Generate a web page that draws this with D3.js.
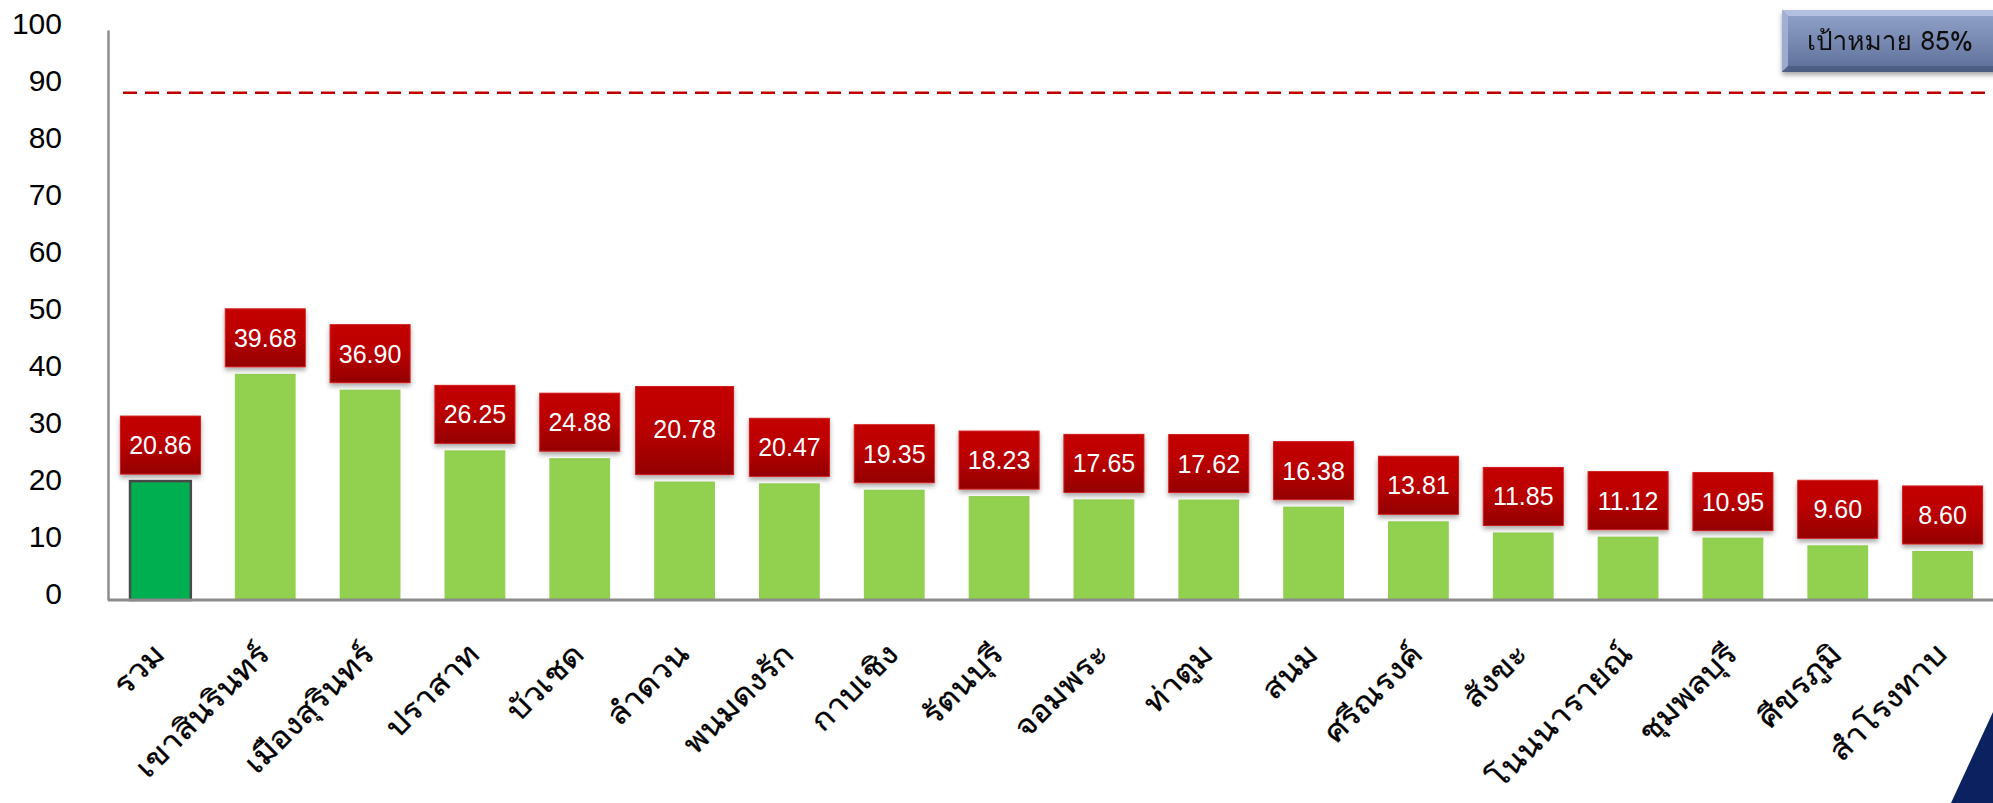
<!DOCTYPE html>
<html>
<head>
<meta charset="utf-8">
<script src="https://cdn.jsdelivr.net/npm/d3@7/dist/d3.min.js"></script>
<style>
  html, body { margin: 0; padding: 0; background: #ffffff; }
  svg { display: block; }
</style>
</head>
<body>
<svg id="chart" width="1993" height="803"></svg>
<script>
// Districts (first one is the overall total)
const districts = [
  "รวม", "เขาสินรินทร์", "เมืองสุรินทร์", "ปราสาท", "บัวเชด", "ลำดวน",
  "พนมดงรัก", "กาบเชิง", "รัตนบุรี", "จอมพระ", "ท่าตูม", "สนม",
  "ศรีณรงค์", "สังขะ", "โนนนารายณ์", "ชุมพลบุรี", "ศีขรภูมิ", "สำโรงทาบ"
];
const values = [
  20.86, 39.68, 36.90, 26.25, 24.88, 20.78,
  20.47, 19.35, 18.23, 17.65, 17.62, 16.38,
  13.81, 11.85, 11.12, 10.95, 9.60, 8.60
];
const yTicks = [0, 10, 20, 30, 40, 50, 60, 70, 80, 90, 100];

// Target line and its badge
const targetLabel = "เป้าหมาย 85%";
const targetLineValue = 89;

const totalIndex = 0;          // "รวม" is drawn in dark green
const enlargedLabelIndex = 5;  // the ลำดวน callout is drawn bigger

const FONT = "Loma, 'Noto Sans Thai Looped', 'Liberation Sans', sans-serif";
const NUM_FONT = "'Liberation Sans', Arial, sans-serif";

const width = 1993, height = 803;
const svg = d3.select("#chart");

const x = d3.scaleBand()
  .domain(districts)
  .range([108, 1995])
  .paddingInner(0.42)
  .paddingOuter(0.21);

const y = d3.scaleLinear().domain([0, 100]).range([600, 30]);

// --- defs: gradients and shadow
const defs = svg.append("defs");

const redGrad = defs.append("linearGradient")
  .attr("id", "callout-red")
  .attr("x1", "0%").attr("y1", "0%").attr("x2", "0%").attr("y2", "100%");
redGrad.append("stop").attr("offset", "0%").attr("stop-color", "#c40000");
redGrad.append("stop").attr("offset", "45%").attr("stop-color", "#bb0000");
redGrad.append("stop").attr("offset", "100%").attr("stop-color", "#930000");

const blueGrad = defs.append("linearGradient")
  .attr("id", "badge-blue")
  .attr("x1", "0%").attr("y1", "0%").attr("x2", "0%").attr("y2", "100%");
blueGrad.append("stop").attr("offset", "0%").attr("stop-color", "#93a4cc");
blueGrad.append("stop").attr("offset", "100%").attr("stop-color", "#5d6e98");

const shadow = defs.append("filter")
  .attr("id", "soft-shadow")
  .attr("x", "-20%").attr("y", "-20%").attr("width", "140%").attr("height", "150%");
shadow.append("feDropShadow")
  .attr("dx", 0).attr("dy", 3)
  .attr("stdDeviation", 2.5)
  .attr("flood-color", "#000").attr("flood-opacity", 0.35);

// --- y axis (left line + labels)
const yAxis = svg.append("g")
  .attr("transform", `translate(${x.range()[0]},0)`)
  .call(d3.axisLeft(y).tickValues(yTicks).tickSize(0).tickSizeOuter(0).tickPadding(46));

yAxis.select(".domain").attr("stroke", "#8c8c8c").attr("stroke-width", 2.5);
yAxis.selectAll("text")
  .attr("dy", "0.12em")
  .style("font-family", NUM_FONT)
  .style("font-size", "30px")
  .attr("fill", "#000");

// --- bars
svg.append("g").selectAll("rect")
  .data(values)
  .join("rect")
  .attr("x", (d, i) => x(districts[i]))
  .attr("y", d => y(d))
  .attr("width", x.bandwidth())
  .attr("height", d => y(0) - y(d))
  .attr("fill", (d, i) => i === totalIndex ? "#00b050" : "#92d050")
  .attr("stroke", (d, i) => i === totalIndex ? "#4a4a4a" : "none")
  .attr("stroke-width", 2.5);

// baseline
svg.append("line")
  .attr("x1", x.range()[0]).attr("x2", width)
  .attr("y1", y(0)).attr("y2", y(0))
  .attr("stroke", "#8c8c8c").attr("stroke-width", 3);

// --- target dashed line
svg.append("line")
  .attr("x1", 123).attr("x2", 1990)
  .attr("y1", y(targetLineValue)).attr("y2", y(targetLineValue))
  .attr("stroke", "#c00000")
  .attr("stroke-width", 2.5)
  .attr("stroke-dasharray", "14 8");

// --- value callouts
const callouts = svg.append("g").selectAll("g")
  .data(values)
  .join("g")
  .attr("transform", (d, i) => {
    const cx = x(districts[i]) + x.bandwidth() / 2;
    return `translate(${cx},${y(d) - 7})`;
  });

callouts.append("rect")
  .attr("x", (d, i) => i === enlargedLabelIndex ? -49 : -40)
  .attr("y", (d, i) => i === enlargedLabelIndex ? -88 : -58)
  .attr("width", (d, i) => i === enlargedLabelIndex ? 98 : 80)
  .attr("height", (d, i) => i === enlargedLabelIndex ? 88 : 58)
  .attr("fill", "url(#callout-red)")
  .attr("stroke", "#d21a1a")
  .attr("stroke-width", 1)
  .attr("filter", "url(#soft-shadow)");

callouts.append("text")
  .attr("x", 0)
  .attr("y", (d, i) => i === enlargedLabelIndex ? -46 : -29)
  .attr("dy", "0.36em")
  .attr("text-anchor", "middle")
  .style("font-family", NUM_FONT)
  .style("font-size", "25px")
  .attr("fill", "#ffffff")
  .text(d => d.toFixed(2));

// --- x axis labels (rotated; Loma is narrower than the original Thai face, so stretch a bit)
const xAxis = svg.append("g")
  .attr("transform", `translate(0,${y(0)})`)
  .call(d3.axisBottom(x).tickSize(0));

xAxis.select(".domain").remove();
xAxis.selectAll("text")
  .attr("x", 0).attr("y", 0).attr("dy", 0)
  .attr("text-anchor", "end")
  .attr("transform", "translate(6,56) rotate(-45) scale(1.1,1)")
  .style("font-family", FONT)
  .style("font-size", "30px")
  .attr("fill", "#000")
  .attr("stroke", "#000")
  .attr("stroke-width", 0.3);

// --- target badge (bevelled)
const badge = svg.append("g").attr("filter", "url(#soft-shadow)");
const bx = 1782, by = 10, bw = 230, bh = 62, bev = 6;
badge.append("rect")
  .attr("x", bx).attr("y", by).attr("width", bw).attr("height", bh)
  .attr("fill", "url(#badge-blue)");
badge.append("polygon")
  .attr("points", `${bx},${by} ${bx + bw},${by} ${bx + bw - bev},${by + bev} ${bx + bev},${by + bev}`)
  .attr("fill", "#bac6e3").attr("opacity", 0.85);
badge.append("polygon")
  .attr("points", `${bx},${by} ${bx + bev},${by + bev} ${bx + bev},${by + bh - bev} ${bx},${by + bh}`)
  .attr("fill", "#a5b3d6").attr("opacity", 0.85);
badge.append("polygon")
  .attr("points", `${bx},${by + bh} ${bx + bev},${by + bh - bev} ${bx + bw - bev},${by + bh - bev} ${bx + bw},${by + bh}`)
  .attr("fill", "#4a5a80").attr("opacity", 0.85);
badge.append("text")
  .attr("x", 1807).attr("y", by + bh / 2)
  .attr("dy", "0.36em")
  .attr("textLength", 166)
  .attr("lengthAdjust", "spacingAndGlyphs")
  .style("font-family", FONT)
  .style("font-size", "26px")
  .attr("fill", "#111")
  .text(targetLabel);

// --- decorative slide corner
svg.append("polygon")
  .attr("points", `1951,${height} ${width},712 ${width},${height}`)
  .attr("fill", "#0c2260");
</script>
</body>
</html>
